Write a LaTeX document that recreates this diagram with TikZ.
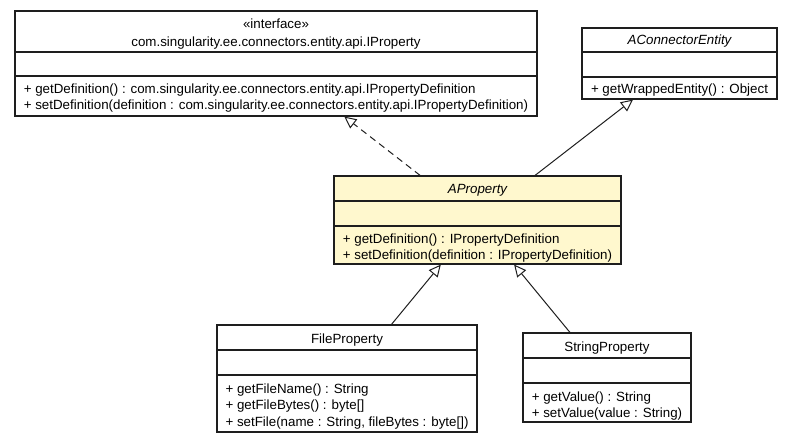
\documentclass[tikz,border=0pt]{standalone}
\usepackage{fontspec}
\setmainfont{Liberation Sans}
\usetikzlibrary{arrows.meta,fit}
\definecolor{apfill}{RGB}{255,248,206}
\definecolor{edgec}{RGB}{30,30,30}
\begin{document}
\begin{tikzpicture}[x=0.75pt,y=-0.75pt,
  box/.style={draw=edgec,line width=0.85pt,inner sep=0pt,fill=white},
  abox/.style={box,fill=apfill},
  sep/.style={draw=edgec,line width=0.85pt},
  ttl/.style={inner sep=0pt,align=center,font=\fontsize{10pt}{13.5pt}\selectfont},
  mth/.style={inner sep=0pt,align=left,font=\fontsize{10pt}{12.3pt}\selectfont},
  inh/.style={draw=edgec,line width=0.75pt,-{Triangle[open,length=9pt,width=8.5pt]}},
  real/.style={inh,dash pattern=on 5pt off 3.5pt}]
\useasboundingbox (0,0) rectangle (793,443);

% IProperty
\node[box,fit={(15,11) (537,116)}] (ip) {};
\draw[sep] (15,52) -- (537,52);
\draw[sep] (15,76) -- (537,76);
\node[ttl] (ipt) at (276,34) {«interface»\\com.singularity.ee.connectors.entity.api.IProperty};
\node[mth] (ipm) at (276,98) {+ getDefinition() : com.singularity.ee.connectors.entity.api.IPropertyDefinition\\+ setDefinition(definition : com.singularity.ee.connectors.entity.api.IPropertyDefinition)};

% AConnectorEntity
\node[box,fit={(582,28) (777,99)}] (ace) {};
\draw[sep] (582,52) -- (777,52);
\draw[sep] (582,77) -- (777,77);
\node[ttl,font=\fontsize{10pt}{12pt}\selectfont\itshape] (acet) at (679.5,41.5) {AConnectorEntity};
\node[mth] (acem) at (679.5,90.5) {+ getWrappedEntity() : Object};

% AProperty
\node[abox,fit={(334,176) (621,264)}] (ap) {};
\draw[sep] (334,201) -- (621,201);
\draw[sep] (334,226) -- (621,226);
\node[ttl,font=\fontsize{10pt}{12pt}\selectfont\itshape] (apt) at (477.5,190) {AProperty};
\node[mth] (apm) at (477.5,248) {+ getDefinition() : IPropertyDefinition\\+ setDefinition(definition : IPropertyDefinition)};

% FileProperty
\node[box,fit={(217,325) (477,432)}] (fp) {};
\draw[sep] (217,350) -- (477,350);
\draw[sep] (217,375) -- (477,375);
\node[ttl] (fpt) at (347,340) {FileProperty};
\node[mth] (fpm) at (347,406.5) {+ getFileName() : String\\+ getFileBytes() : byte[]\\+ setFile(name : String, fileBytes : byte[])};

% StringProperty
\node[box,fit={(523,333) (691,422)}] (sp) {};
\draw[sep] (523,358) -- (691,358);
\draw[sep] (523,383) -- (691,383);
\node[ttl] (spt) at (607,348.5) {StringProperty};
\node[mth] (spm) at (607,406) {+ getValue() : String\\+ setValue(value : String)};

% connectors
\draw[real] (ap) -- (ip);
\draw[inh] (ap) -- (ace);
\draw[inh] (fp) -- (ap);
\draw[inh] (sp) -- (ap);
\end{tikzpicture}
\end{document}
